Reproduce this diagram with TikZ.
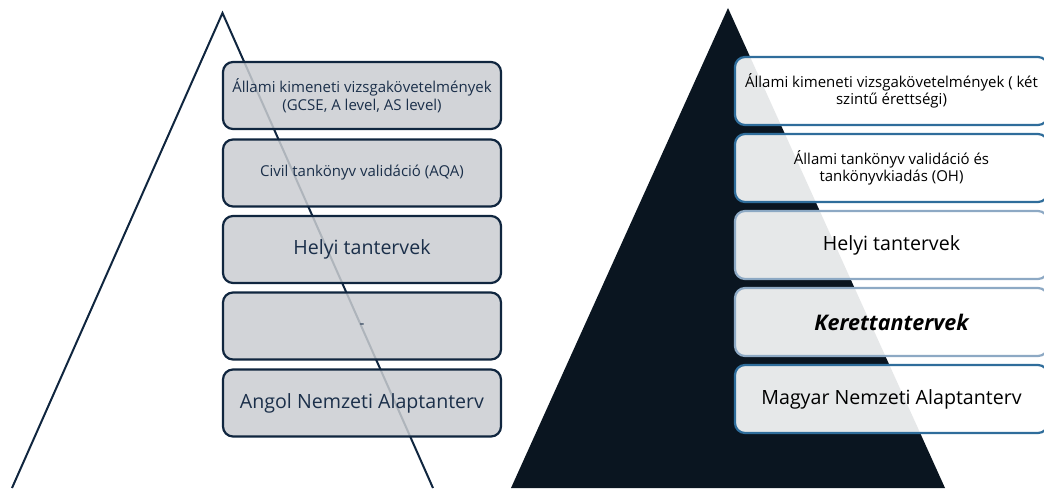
\documentclass[tikz,border=0pt]{standalone}
\usepackage{fontspec}
\setmainfont{Open Sans}
\definecolor{navy}{HTML}{10263F}
\definecolor{darktri}{HTML}{0A1520}
\definecolor{lgray}{HTML}{CACDD1}
\definecolor{ltext}{HTML}{1B2F4A}
\definecolor{bblue}{HTML}{2F6D9B}
\definecolor{lblue}{HTML}{8DA9C4}
\begin{document}
\begin{tikzpicture}[x=1pt,y=1pt,
  lbox/.style={draw=navy, line width=2.2pt, rounded corners=10pt, fill=lgray, fill opacity=0.85, text opacity=1,
    minimum width=278pt, minimum height=67pt, text=ltext, align=center, inner sep=0pt},
  rbox/.style={line width=2.2pt, rounded corners=10pt, fill=white, fill opacity=0.9, text opacity=1,
    minimum width=313pt, minimum height=68pt, text=black, align=center, inner sep=0pt},
  small/.style={font=\fontsize{15}{17.5}\selectfont},
  big/.style={font=\fontsize{19.6}{23}\selectfont}]
\clip (0,0) rectangle (1044,488);
% left pyramid outline
\coordinate (la) at (222.5,475);
\coordinate (lb) at (12,0);
\coordinate (lc) at (433,0);
\draw[navy, line width=2pt] (lb) -- (la) -- (lc);
% right pyramid filled
\coordinate (ra) at (728,480);
\coordinate (rb) at (511,0);
\coordinate (rc) at (945,0);
\fill[darktri] (rb) -- (ra) -- (rc) -- cycle;
% left boxes
\node[lbox, small] (l1) at (362,392.5) {Állami kimeneti vizsgakövetelmények\\(GCSE, A level, AS level)};
\node[lbox, small] (l2) at (362,315) {Civil tankönyv validáció (AQA)};
\node[lbox, big] (l3) at (362,238.5) {Helyi tantervek};
\node[lbox, small] (l4) at (362,162) {-};
\node[lbox, big] (l5) at (362,85) {Angol Nemzeti Alaptanterv};
% right boxes
\node[rbox, draw=bblue, small] (r1) at (891.5,397) {Állami kimeneti vizsgakövetelmények ( két\\szintű érettségi)};
\node[rbox, draw=bblue, small] (r2) at (891.5,320) {Állami tankönyv validáció és\\tankönyvkiadás (OH)};
\node[rbox, draw=lblue, big] (r3) at (891.5,243) {Helyi tantervek};
\node[rbox, draw=lblue, font=\fontsize{21.5}{24}\selectfont\bfseries\itshape] (r4) at (891.5,166) {Kerettantervek};
\node[rbox, draw=bblue, big] (r5) at (891.5,89) {Magyar Nemzeti Alaptanterv};
\end{tikzpicture}
\end{document}
